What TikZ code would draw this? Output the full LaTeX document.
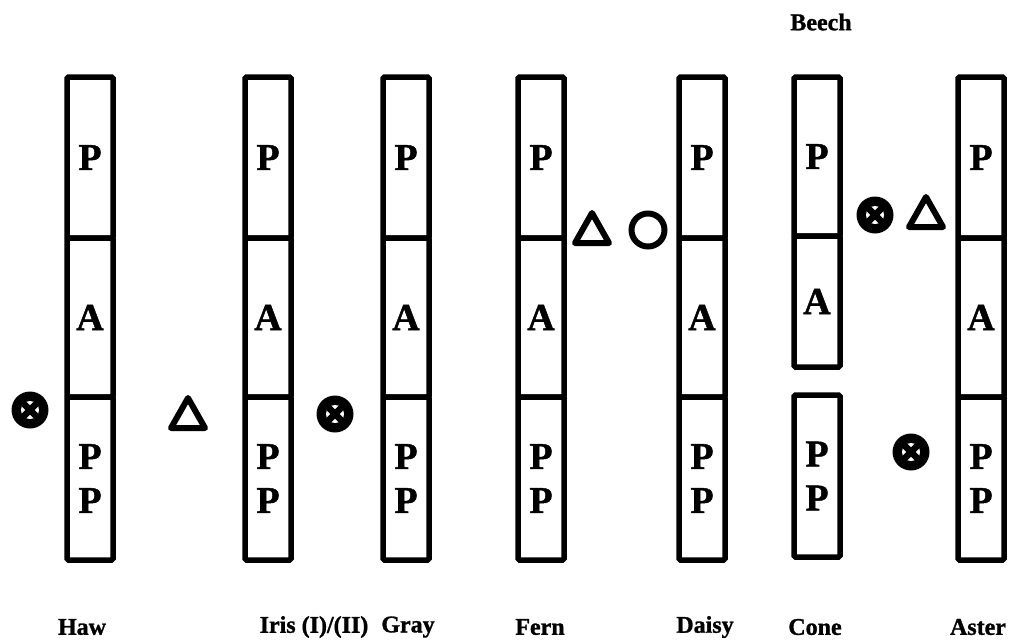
\documentclass[tikz,border=0pt]{standalone}
\usepackage{fontspec}
\setmainfont{Liberation Serif}[BoldFeatures={FakeBold=1.2}]
\usetikzlibrary{calc}
\begin{document}
\begin{tikzpicture}[x=1pt,y=-1pt,
  seg/.style={draw, line width=5.5pt, rounded corners=1.5pt, minimum width=46pt, inner sep=0pt, align=center,
    font=\fontsize{38}{44}\selectfont\bfseries},
  lab/.style={font=\fontsize{24}{24}\selectfont\bfseries, inner sep=0pt},
  symline/.style={line width=6pt, line join=round, line cap=round}]
\useasboundingbox (0,0) rectangle (1025,643);
% columns: P segment, A segment, PP segment
\foreach \nm/\cx in {haw/90, iris/268, gray/406, fern/541, daisy/702, aster/981}{
  \node[seg, minimum height=161pt] (\nm P) at (\cx,157.5) {P};
  \node[seg, minimum height=159pt] (\nm A) at (\cx,317.5) {A};
  \node[seg, minimum height=163pt] (\nm PP) at (\cx,478.5) {P\\P};
}
% Cone (split)
\node[seg, minimum height=159pt] (coneP) at (817,156.5) {P};
\node[seg, minimum height=131pt] (coneA) at (817,301.5) {A};
\node[seg, minimum height=162pt] (conePP) at (817,476) {P\\P};
% labels
\node[lab] (lhaw) at (82,627) {Haw};
\node[lab] (liris) at (314,627) {Iris (I)/(II)};
\node[lab] (lgray) at (408,627) {Gray};
\node[lab] (lfern) at (540,627) {Fern};
\node[lab] (ldaisy) at (705,627) {Daisy};
\node[lab] (lcone) at (815,627) {Cone};
\node[lab] (laster) at (978,627) {Aster};
\node[lab] (lbeech) at (821,22) {Beech};
% otimes symbols
\foreach \nm/\sx/\sy in {ox1/30/410, ox2/335/414, ox3/875/215, ox4/911/452}{
  \coordinate (\nm) at (\sx,\sy);
  \fill (\nm) circle (18.5pt);
  \fill[white] (\nm) circle (9pt);
  \draw[line width=6.5pt, line cap=butt] ($(\nm)+(-10,-10)$) -- ($(\nm)+(10,10)$)
      ($(\nm)+(-10,10)$) -- ($(\nm)+(10,-10)$);
}
% triangles
\foreach \nm/\sx/\sy in {tr1/188/414, tr2/592/229, tr3/926/213}{
  \coordinate (\nm) at (\sx,\sy);
  \draw[symline] ($(\nm)+(0,-16)$) -- ($(\nm)+(17,14)$) -- ($(\nm)+(-17,14)$) -- cycle;
}
% circle
\coordinate (ci1) at (648,230);
\draw[line width=6pt] (ci1) circle (16.5pt);
\end{tikzpicture}
\end{document}
